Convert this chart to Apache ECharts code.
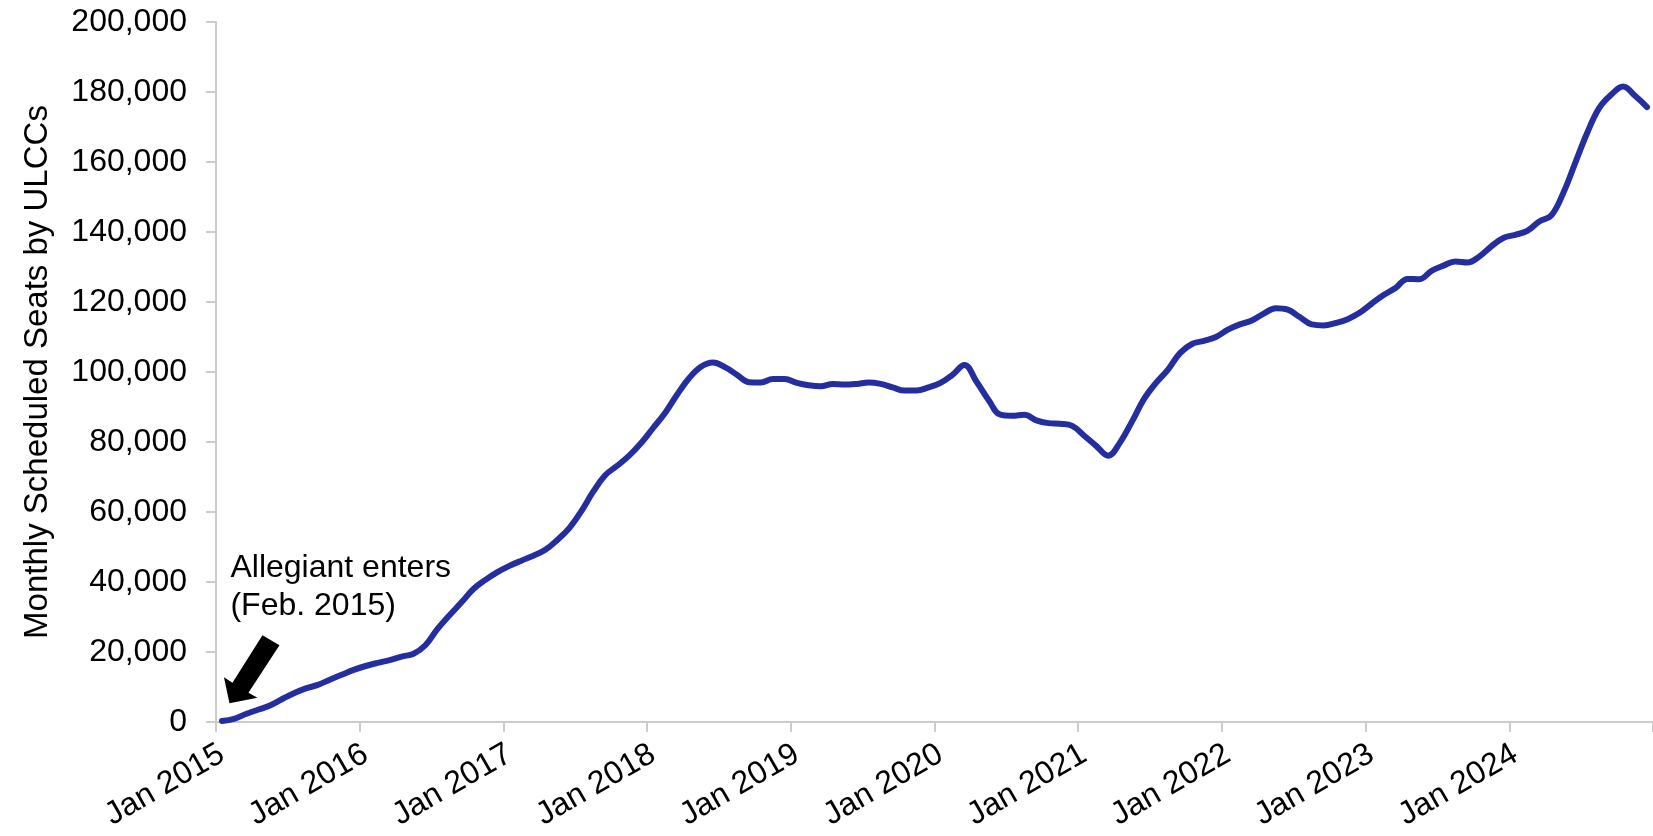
<!DOCTYPE html>
<html>
<head>
<meta charset="utf-8">
<script src="https://cdn.jsdelivr.net/npm/echarts@6/dist/echarts.min.js"></script>
<style>
  html, body { margin: 0; padding: 0; background: #fff; }
  #chart { width: 1653px; height: 836px; }
</style>
</head>
<body>
<div id="chart"></div>
<script>
// ---- data ----
const monthNames = ['Jan','Feb','Mar','Apr','May','Jun','Jul','Aug','Sep','Oct','Nov','Dec'];
const years = [2015, 2016, 2017, 2018, 2019, 2020, 2021, 2022, 2023, 2024];
const seats2015 = [300, 900, 2300, 3500, 4700, 6500, 8200, 9600, 10600, 12100, 13500, 14900];
const seats2016 = [16000, 16900, 17700, 18700, 19500, 22000, 26600, 30500, 34200, 38000, 40600, 42800];
const seats2017 = [44600, 46100, 47500, 49200, 52000, 55400, 60200, 65800, 70500, 73200, 76100, 79700];
const seats2018 = [84000, 88300, 93500, 98200, 101500, 102700, 101400, 99200, 97100, 97000, 98000, 98000];
const seats2019 = [96900, 96200, 95900, 96600, 96400, 96600, 97000, 96600, 95600, 94700, 94700, 95600];
const seats2020 = [96900, 99200, 102000, 97300, 92100, 87800, 87500, 87800, 86200, 85400, 85200, 84600];
const seats2021 = [81800, 78900, 76100, 79900, 85900, 92300, 96900, 100700, 105400, 108000, 108900, 110000];
const seats2022 = [112100, 113600, 114700, 116700, 118200, 117800, 115700, 113600, 113300, 114000, 115100, 116900];
const seats2023 = [119500, 122000, 124000, 126600, 126500, 128900, 130400, 131600, 131300, 133000, 135900, 138300];
const seats2024 = [139200, 140300, 143000, 144700, 151100, 159700, 168300, 175400, 179200, 181600, 178900, 175700];
const yAxisTitle = 'Monthly Scheduled Seats by ULCCs';
const annotationText = 'Allegiant enters\n(Feb. 2015)';
const annotationIndex = 1; // Feb 2015

// ---- build ----
const categories = [];
years.forEach(y => monthNames.forEach(m => categories.push(m + ' ' + y)));
const values = [].concat(seats2015, seats2016, seats2017, seats2018, seats2019,
                         seats2020, seats2021, seats2022, seats2023, seats2024);

const FONT = '"Liberation Sans", Arial, sans-serif';
const chart = echarts.init(document.getElementById('chart'), null, { renderer: 'canvas' });

chart.setOption({
  animation: false,
  backgroundColor: '#ffffff',
  grid: { left: 216, right: 0, top: 22, bottom: 114, containLabel: false },
  xAxis: {
    type: 'category',
    data: categories,
    boundaryGap: true,
    axisLine: { show: true, lineStyle: { color: '#cccccc', width: 2 } },
    axisTick: { show: true, length: 10, interval: (i) => i % 12 === 0, lineStyle: { color: '#cccccc', width: 2 } },
    axisLabel: {
      interval: (i) => i % 12 === 0,
      rotate: 30,
      margin: 30,
      color: '#000',
      fontSize: 32,
      fontFamily: FONT
    },
    splitLine: { show: false }
  },
  yAxis: {
    type: 'value',
    min: 0,
    max: 200000,
    interval: 20000,
    name: yAxisTitle,
    nameLocation: 'middle',
    nameGap: 162,
    nameTextStyle: { color: '#000', fontSize: 33, fontFamily: FONT },
    axisLine: { show: true, lineStyle: { color: '#cccccc', width: 2 } },
    axisTick: { show: true, length: 10, lineStyle: { color: '#cccccc', width: 2 } },
    axisLabel: {
      margin: 29,
      color: '#000',
      fontSize: 32,
      fontFamily: FONT,
      formatter: (v) => v.toLocaleString('en-US')
    },
    splitLine: { show: false }
  },
  series: [{
    type: 'line',
    data: values,
    smooth: 0.4,
    symbol: 'none',
    lineStyle: { color: '#242E9E', width: 6, cap: 'round', join: 'round' }
  }]
});

// annotation anchored on the Feb 2015 point
const p = chart.convertToPixel({ seriesIndex: 0 }, [annotationIndex, values[annotationIndex]]);
const tipX = p[0] - 4.5, tipY = p[1] - 15.5;
chart.setOption({
  graphic: [
    {
      type: 'polygon',
      x: tipX, y: tipY,
      shape: { points: [[0, 0], [-5.5, -26], [3, -20.5], [33, -68], [50, -58], [19, -10.5], [28, -5.5]] },
      style: { fill: '#000' },
      silent: true
    },
    {
      type: 'text',
      x: tipX + 1, y: tipY - 154,
      style: { text: annotationText, font: '32px ' + FONT, fill: '#000', lineHeight: 38 },
      silent: true
    }
  ]
});
</script>
</body>
</html>
